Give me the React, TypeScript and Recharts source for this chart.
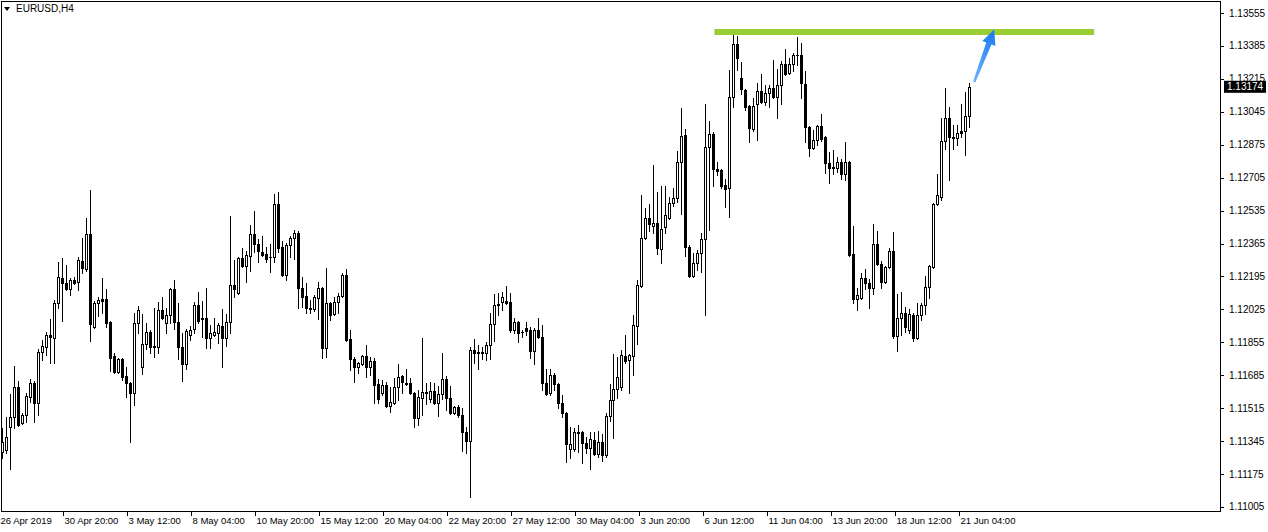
import React from 'react';
import { Bar, ComposedChart, ReferenceLine, XAxis, YAxis } from 'recharts';

const symbolTitle = 'EURUSD,H4';

// H4 bars, oldest first
const opens = [
	1.11289, 1.11299, 1.11418, 1.11469, 1.11624, 1.11438, 1.1148, 1.11573, 1.11645, 1.11542,
	1.11805, 1.11831, 1.11893, 1.11877, 1.12058, 1.12187, 1.12161, 1.1213, 1.12177, 1.12166,
	1.12275, 1.12233, 1.12414, 1.11934, 1.12058, 1.12078, 1.12078, 1.1196, 1.11784, 1.11702,
	1.11769, 1.11681, 1.11645, 1.11593, 1.11955, 1.11727, 1.11846, 1.11908, 1.11836, 1.11831,
	1.12022, 1.11955, 1.11996, 1.1213, 1.1196, 1.11831, 1.11743, 1.11893, 1.11924, 1.12047,
	1.1198, 1.1198, 1.11877, 1.11893, 1.11903, 1.11939, 1.11877, 1.1196, 1.12151, 1.12109,
	1.1229, 1.12249, 1.123, 1.12414, 1.12362, 1.12321, 1.12311, 1.12295, 1.12295, 1.12569,
	1.12347, 1.12202, 1.12357, 1.12393, 1.12419, 1.12135, 1.12094, 1.12032, 1.12027, 1.12084,
	1.12135, 1.11825, 1.12058, 1.12001, 1.12063, 1.12094, 1.12202, 1.11872, 1.11769, 1.11727,
	1.11743, 1.11784, 1.11727, 1.11758, 1.1164, 1.11593, 1.11634, 1.11526, 1.11542, 1.11624,
	1.11681, 1.11645, 1.11645, 1.11593, 1.11464, 1.11567, 1.11598, 1.11562, 1.11603, 1.11542,
	1.11588, 1.11665, 1.11567, 1.1149, 1.11521, 1.1148, 1.11392, 1.11345, 1.11815, 1.11805,
	1.11805, 1.118, 1.11841, 1.11949, 1.12047, 1.12063, 1.12068, 1.12063, 1.11918, 1.1196,
	1.11908, 1.11929, 1.11918, 1.1181, 1.11918, 1.11882, 1.11645, 1.11593, 1.11686, 1.1164,
	1.11542, 1.1149, 1.11304, 1.11304, 1.11392, 1.11392, 1.11335, 1.11309, 1.1135, 1.11278,
	1.1134, 1.11273, 1.11474, 1.11557, 1.11614, 1.11624, 1.11784, 1.11764, 1.11784, 1.11939,
	1.12145, 1.12393, 1.12497, 1.12455, 1.12471, 1.12337, 1.1245, 1.12497, 1.12574, 1.126,
	1.12786, 1.12925, 1.12347, 1.12197, 1.12264, 1.12316, 1.12388, 1.12863, 1.1293, 1.1275,
	1.12744, 1.12667, 1.12651, 1.13121, 1.13395, 1.13219, 1.13157, 1.13075, 1.12956, 1.13085,
	1.13152, 1.13095, 1.13142, 1.13168, 1.13121, 1.13183, 1.13292, 1.13245, 1.13292, 1.13338,
	1.13338, 1.13188, 1.12966, 1.12858, 1.12899, 1.12972, 1.12915, 1.12781, 1.1276, 1.12755,
	1.12786, 1.12724, 1.12786, 1.12311, 1.12078, 1.12084, 1.12187, 1.12161, 1.12135, 1.12362,
	1.12259, 1.12166, 1.12244, 1.12326, 1.11887, 1.1198, 1.12006, 1.11918, 1.11996, 1.11877,
	1.11996, 1.12047, 1.1214, 1.12244, 1.12569, 1.12605, 1.12894, 1.13013, 1.12915, 1.1291,
	1.12946, 1.12946, 1.13023,
];

const highs = [
	1.11412, 1.11469, 1.11588, 1.11733, 1.11655, 1.1149, 1.11593, 1.11665, 1.11655, 1.1182,
	1.11867, 1.11908, 1.11975, 1.12073, 1.12269, 1.1229, 1.12254, 1.12187, 1.12192, 1.12295,
	1.12393, 1.12497, 1.12641, 1.12068, 1.12089, 1.12187, 1.1213, 1.11965, 1.118, 1.11772,
	1.11772, 1.11727, 1.1165, 1.12006, 1.12042, 1.12001, 1.11955, 1.11918, 1.12032, 1.12063,
	1.12089, 1.12032, 1.12135, 1.12177, 1.12058, 1.11903, 1.11924, 1.11939, 1.12063, 1.12115,
	1.12068, 1.12135, 1.11944, 1.1198, 1.11955, 1.12027, 1.12001, 1.12507, 1.1228, 1.12295,
	1.12342, 1.12326, 1.1246, 1.12533, 1.12388, 1.12404, 1.12347, 1.12362, 1.1262, 1.12631,
	1.12378, 1.12368, 1.12404, 1.12435, 1.12429, 1.12192, 1.12161, 1.12073, 1.12099, 1.12166,
	1.1214, 1.12238, 1.12063, 1.12089, 1.12109, 1.12213, 1.12233, 1.11918, 1.11779, 1.11753,
	1.11789, 1.11841, 1.11779, 1.11774, 1.11665, 1.1166, 1.1165, 1.11624, 1.11671, 1.11743,
	1.11686, 1.11717, 1.11671, 1.11598, 1.11609, 1.11877, 1.11645, 1.1165, 1.11645, 1.11629,
	1.118, 1.11681, 1.11629, 1.11526, 1.11531, 1.11516, 1.11418, 1.11831, 1.11872, 1.11841,
	1.11831, 1.11856, 1.12006, 1.12104, 1.12109, 1.12115, 1.12145, 1.12109, 1.1198, 1.11965,
	1.11918, 1.1196, 1.11934, 1.11929, 1.1198, 1.11944, 1.11717, 1.11717, 1.11696, 1.11645,
	1.11583, 1.11495, 1.11418, 1.11412, 1.11428, 1.11397, 1.11366, 1.11392, 1.11392, 1.11397,
	1.11381, 1.1149, 1.1164, 1.11794, 1.11779, 1.11815, 1.11893, 1.11794, 1.11996, 1.12177,
	1.12615, 1.12548, 1.12569, 1.1277, 1.12631, 1.12662, 1.12662, 1.12605, 1.12651, 1.12842,
	1.13064, 1.12956, 1.12357, 1.12316, 1.12331, 1.12419, 1.13085, 1.12997, 1.12941, 1.12786,
	1.1275, 1.12698, 1.13261, 1.13472, 1.13436, 1.13302, 1.13162, 1.1308, 1.13116, 1.13193,
	1.1324, 1.13183, 1.13183, 1.13312, 1.13266, 1.13307, 1.13369, 1.13323, 1.13348, 1.13431,
	1.134, 1.13255, 1.12972, 1.12951, 1.12977, 1.13033, 1.12918, 1.12837, 1.12848, 1.12812,
	1.12801, 1.12889, 1.12791, 1.12455, 1.12135, 1.12213, 1.12233, 1.12182, 1.12465, 1.12429,
	1.12275, 1.12249, 1.12342, 1.12424, 1.12104, 1.12115, 1.12037, 1.12027, 1.12006, 1.12058,
	1.12058, 1.12197, 1.12254, 1.12574, 1.12724, 1.13013, 1.13168, 1.1307, 1.12977, 1.12977,
	1.13085, 1.13147, 1.13193,
];

const lows = [
	1.11258, 1.11283, 1.11201, 1.11412, 1.11423, 1.11433, 1.11443, 1.11547, 1.11443, 1.1148,
	1.11764, 1.11789, 1.11748, 1.11748, 1.12032, 1.11965, 1.12125, 1.12099, 1.12156, 1.12125,
	1.12213, 1.12223, 1.11862, 1.11929, 1.11991, 1.12006, 1.11934, 1.11707, 1.11697, 1.11697,
	1.1166, 1.11573, 1.1134, 1.11531, 1.11903, 1.11691, 1.1182, 1.118, 1.11779, 1.118,
	1.11975, 1.11903, 1.11955, 1.11924, 1.11769, 1.11655, 1.11717, 1.11867, 1.11903, 1.11955,
	1.11882, 1.11825, 1.11825, 1.11887, 1.11851, 1.11727, 1.11836, 1.11903, 1.12089, 1.12104,
	1.12244, 1.12166, 1.12223, 1.12321, 1.12269, 1.123, 1.12269, 1.12218, 1.12269, 1.12321,
	1.12197, 1.12177, 1.12295, 1.12285, 1.12032, 1.12037, 1.12006, 1.12006, 1.12016, 1.11975,
	1.11774, 1.11779, 1.1197, 1.11996, 1.12006, 1.12089, 1.11862, 1.11712, 1.1165, 1.11696,
	1.11738, 1.11676, 1.11686, 1.11542, 1.11542, 1.11583, 1.11521, 1.11495, 1.11537, 1.11557,
	1.11593, 1.11634, 1.11588, 1.11418, 1.11428, 1.1148, 1.11536, 1.11547, 1.11536, 1.11474,
	1.11562, 1.11505, 1.11485, 1.11485, 1.11469, 1.11294, 1.11283, 1.11056, 1.11748, 1.11717,
	1.11769, 1.11764, 1.11769, 1.11862, 1.11996, 1.12022, 1.12053, 1.11908, 1.11903, 1.11856,
	1.11882, 1.11893, 1.11774, 1.11743, 1.11877, 1.11609, 1.11583, 1.11583, 1.11609, 1.11516,
	1.11469, 1.11237, 1.11258, 1.11294, 1.11289, 1.11232, 1.11283, 1.11201, 1.11273, 1.11263,
	1.11242, 1.11263, 1.11448, 1.11361, 1.11567, 1.11609, 1.11748, 1.11593, 1.11686, 1.11846,
	1.1214, 1.12388, 1.12429, 1.12419, 1.12311, 1.12264, 1.12419, 1.12491, 1.12558, 1.12579,
	1.12517, 1.123, 1.12192, 1.12192, 1.12228, 1.12218, 1.11996, 1.12435, 1.12662, 1.12719,
	1.12651, 1.12553, 1.12502, 1.1307, 1.13261, 1.13137, 1.13054, 1.12889, 1.12946, 1.12899,
	1.1309, 1.1308, 1.1307, 1.13116, 1.13013, 1.13085, 1.13235, 1.1324, 1.13255, 1.13287,
	1.13116, 1.12889, 1.12816, 1.12853, 1.12874, 1.12894, 1.12729, 1.12677, 1.12724, 1.12734,
	1.12698, 1.12693, 1.123, 1.12058, 1.12022, 1.1208, 1.1213, 1.12032, 1.12104, 1.12254,
	1.12135, 1.12161, 1.12238, 1.11877, 1.1181, 1.11893, 1.11908, 1.11903, 1.11862, 1.11872,
	1.1197, 1.12001, 1.12084, 1.12238, 1.12564, 1.1259, 1.12853, 1.12693, 1.12853, 1.12874,
	1.12915, 1.12822, 1.12966,
];

const closes = [
	1.1134, 1.11366, 1.11469, 1.11624, 1.11428, 1.1148, 1.11578, 1.11645, 1.11542, 1.11805,
	1.11836, 1.11893, 1.11882, 1.12058, 1.12192, 1.12161, 1.1213, 1.12177, 1.12161, 1.1228,
	1.12238, 1.12414, 1.11949, 1.12058, 1.12073, 1.12068, 1.11955, 1.11774, 1.11702, 1.11769,
	1.11676, 1.11645, 1.11593, 1.11955, 1.12022, 1.11846, 1.11908, 1.11831, 1.11831, 1.12022,
	1.1198, 1.11996, 1.1213, 1.1196, 1.11831, 1.11743, 1.11913, 1.11918, 1.12047, 1.11965,
	1.11975, 1.11877, 1.11903, 1.11908, 1.11944, 1.11877, 1.1196, 1.12151, 1.1213, 1.1229,
	1.12249, 1.12306, 1.12414, 1.12362, 1.12326, 1.12306, 1.12285, 1.12293, 1.12569, 1.12342,
	1.12202, 1.12357, 1.12393, 1.12419, 1.12135, 1.12089, 1.12032, 1.12027, 1.12089, 1.12135,
	1.11825, 1.12058, 1.11996, 1.12063, 1.12094, 1.12202, 1.11867, 1.11769, 1.11727, 1.11748,
	1.11784, 1.11727, 1.11758, 1.11634, 1.11562, 1.11634, 1.11526, 1.11547, 1.11624, 1.11676,
	1.1165, 1.1164, 1.11593, 1.11464, 1.11573, 1.11598, 1.11593, 1.11603, 1.11542, 1.11588,
	1.11665, 1.11567, 1.1149, 1.11521, 1.1148, 1.11392, 1.11345, 1.11815, 1.118, 1.118,
	1.118, 1.11841, 1.11949, 1.12047, 1.12052, 1.12089, 1.12058, 1.11918, 1.1196, 1.11903,
	1.11906, 1.11913, 1.1181, 1.11918, 1.11882, 1.11645, 1.11588, 1.11686, 1.1164, 1.11542,
	1.1149, 1.1133, 1.1133, 1.11392, 1.11387, 1.11335, 1.11309, 1.11356, 1.11278, 1.1134,
	1.11273, 1.11474, 1.11557, 1.11614, 1.11676, 1.11789, 1.11758, 1.11789, 1.11944, 1.12151,
	1.12393, 1.12497, 1.12465, 1.12471, 1.12342, 1.1244, 1.12512, 1.12574, 1.126, 1.12786,
	1.1292, 1.12347, 1.12197, 1.12264, 1.12316, 1.12388, 1.12863, 1.1293, 1.1275, 1.12739,
	1.12662, 1.12646, 1.13121, 1.13395, 1.13323, 1.13162, 1.1307, 1.12961, 1.13075, 1.13152,
	1.13095, 1.13142, 1.13168, 1.13121, 1.13183, 1.13292, 1.1324, 1.13292, 1.13338, 1.13336,
	1.13193, 1.12966, 1.12858, 1.12899, 1.12972, 1.12904, 1.12781, 1.12755, 1.12755, 1.12786,
	1.12724, 1.12786, 1.12306, 1.12078, 1.12099, 1.12187, 1.12161, 1.12135, 1.12362, 1.12259,
	1.12166, 1.12244, 1.12326, 1.11887, 1.1198, 1.12006, 1.11934, 1.12001, 1.11877, 1.11996,
	1.12047, 1.1214, 1.12249, 1.12569, 1.12615, 1.12894, 1.13013, 1.12915, 1.1291, 1.12935,
	1.12935, 1.13023, 1.13174,
];

// one date label every 16 bars, starting at the first bar
const dateLabels = [
	'26 Apr 2019', '30 Apr 20:00', '3 May 12:00', '8 May 04:00', '10 May 20:00', '15 May 12:00',
	'20 May 04:00', '22 May 20:00', '27 May 12:00', '30 May 04:00', '3 Jun 20:00', '6 Jun 12:00',
	'11 Jun 04:00', '13 Jun 20:00', '18 Jun 12:00', '21 Jun 04:00',
];
const labelStep = 16;
const emptyBars = 62;

const priceTicks = [
	1.11005, 1.11175, 1.11345, 1.11515, 1.11685, 1.11855, 1.12025, 1.12195, 1.12365, 1.12535,
	1.12705, 1.12875, 1.13045, 1.13215, 1.13385, 1.13555,
];
const priceMin = 1.10984;
const priceMax = 1.13617;

// resistance level and the arrow pointing at it
const levelPrice = 1.13457;
const levelFrom = 178;
const levelTo = 273;
const arrowFrom = { bar: 243, price: 1.13199 };
const arrowTo = { bar: 248, price: 1.1347 };

const FONT = '"Liberation Sans", Arial, sans-serif';

const candleRange = (d: any) => (d.open === undefined ? null : [d.low, d.high]);

const Candle = (props: any) => {
	const { x, y, width, height, payload } = props;
	if (!payload || payload.open === undefined) return null;
	const { open, close, high, low } = payload;
	const cx = Math.floor(x + width / 2) + 0.5;
	const span = high - low;
	const py = (p: number) => (span > 0 ? y + ((high - p) / span) * height : y);
	const top = Math.round(py(Math.max(open, close)));
	const bottom = Math.round(py(Math.min(open, close)));
	const bull = close >= open;
	return (
		<g>
			<line x1={cx} x2={cx} y1={Math.round(y)} y2={Math.round(y + height) + 1} stroke="#000" strokeWidth={1} />
			{bottom - top < 1 ? (
				<line x1={cx - 1.5} x2={cx + 1.5} y1={top + 0.5} y2={top + 0.5} stroke="#000" strokeWidth={1} />
			) : (
				<rect
					x={cx - 1}
					y={top + 0.5}
					width={2}
					height={bottom - top}
					fill={bull ? '#fff' : '#000'}
					stroke="#000"
					strokeWidth={1}
				/>
			)}
		</g>
	);
};

const DateTick = (props: any) => {
	const { x, y, payload } = props;
	const idx = Math.round(payload.value / labelStep);
	const label = dateLabels[idx];
	if (!label) return null;
	const px = Math.floor(x) + 0.5;
	return (
		<g>
			{idx > 0 && <line x1={px - 3} x2={px - 3} y1={y + 1} y2={y + 5} stroke="#000" />}
			<text x={px - 2} y={y + 13} fontSize={9.5} fontFamily={FONT} fill="#000" textAnchor="start">
				{label}
			</text>
		</g>
	);
};

const PriceTick = (props: any) => {
	const { x, y, payload } = props;
	const py = Math.round(y) + 0.5;
	return (
		<g>
			<line x1={x + 1} x2={x + 4} y1={py} y2={py} stroke="#000" />
			<text x={x + 9} y={y + 3.5} fontSize={10} fontFamily={FONT} fill="#000" textAnchor="start">
				{payload.value.toFixed(5)}
			</text>
		</g>
	);
};

const PriceTag = (props: any) => {
	const { viewBox, value } = props;
	if (!viewBox) return null;
	const right = viewBox.x + viewBox.width;
	const cy = viewBox.y;
	return (
		<g>
			<rect x={right + 4} y={cy - 6} width={42} height={12} fill="#000" />
			<text x={right + 7} y={cy + 3.5} fontSize={10} fontFamily={FONT} fill="#fff">
				{Number(value).toFixed(5)}
			</text>
		</g>
	);
};

const Arrow = (props: any) => {
	const { x1, y1, x2, y2 } = props;
	const dx = x2 - x1;
	const dy = y2 - y1;
	const len = Math.hypot(dx, dy);
	const ux = dx / len;
	const uy = dy / len;
	const nx = -uy;
	const ny = ux;
	const head = 15;
	const bx = x2 - ux * head;
	const by = y2 - uy * head;
	const pt = (px: number, py: number, w: number) => `${px + nx * w},${py + ny * w}`;
	const points = [
		pt(x1, y1, 1.2),
		pt(bx, by, 2.8),
		pt(bx, by, 7),
		`${x2},${y2}`,
		pt(bx, by, -7),
		pt(bx, by, -2.8),
		pt(x1, y1, -1.2),
	].join(' ');
	return (
		<g>
			<defs>
				<linearGradient id="arrowFill" x1={x1} y1={y1} x2={x2} y2={y2} gradientUnits="userSpaceOnUse">
					<stop offset="0" stopColor="#6fb3ff" />
					<stop offset="1" stopColor="#1a78f2" />
				</linearGradient>
			</defs>
			<polygon points={points} fill="url(#arrowFill)" />
		</g>
	);
};

export default function App() {
	const last = closes[closes.length - 1];
	const data = Array.from({ length: opens.length + emptyBars }, (_, i) =>
		i < opens.length
			? { i, open: opens[i], high: highs[i], low: lows[i], close: closes[i] }
			: { i },
	);
	const dateTicks = dateLabels.map((_, k) => k * labelStep);

	return (
		<div style={{ position: 'relative', width: 1268, height: 532, background: '#fff', fontFamily: FONT }}>
			<style>{'body{margin:0}'}</style>
			<ComposedChart
				width={1268}
				height={532}
				data={data}
				margin={{ top: 1, right: 0, bottom: 0, left: 1 }}
				barCategoryGap={0}>
				<XAxis
					dataKey="i"
					type="category"
					ticks={dateTicks}
					interval={0}
					tick={<DateTick />}
					tickLine={false}
					axisLine={false}
					tickSize={0}
					tickMargin={0}
					height={21}
				/>
				<YAxis
					orientation="right"
					type="number"
					domain={[priceMin, priceMax]}
					allowDataOverflow
					ticks={priceTicks}
					interval={0}
					tick={<PriceTick />}
					tickLine={false}
					axisLine={false}
					tickSize={0}
					tickMargin={0}
					width={48}
				/>
				<Bar dataKey={candleRange} shape={Candle} barSize={3} isAnimationActive={false} />
				<ReferenceLine
					segment={[
						{ x: levelFrom, y: levelPrice },
						{ x: levelTo, y: levelPrice },
					]}
					stroke="#9ACD32"
					strokeWidth={6}
				/>
				<ReferenceLine
					segment={[
						{ x: arrowFrom.bar, y: arrowFrom.price },
						{ x: arrowTo.bar, y: arrowTo.price },
					]}
					shape={Arrow}
				/>
				<ReferenceLine y={last} stroke="none" label={<PriceTag value={last} />} />
			</ComposedChart>
			<div
				style={{
					position: 'absolute',
					left: 1,
					top: 1,
					width: 1220,
					height: 511,
					border: '1px solid #000',
					boxSizing: 'border-box',
					pointerEvents: 'none',
				}}
			/>
			<div
				style={{
					position: 'absolute',
					left: 4,
					top: 3,
					fontSize: 10,
					lineHeight: '12px',
					color: '#000',
					display: 'flex',
					alignItems: 'center',
				}}>
				<span
					style={{
						width: 0,
						height: 0,
						borderLeft: '3.5px solid transparent',
						borderRight: '3.5px solid transparent',
						borderTop: '4px solid #000',
						marginRight: 6,
					}}
				/>
				{symbolTitle}
			</div>
		</div>
	);
}
